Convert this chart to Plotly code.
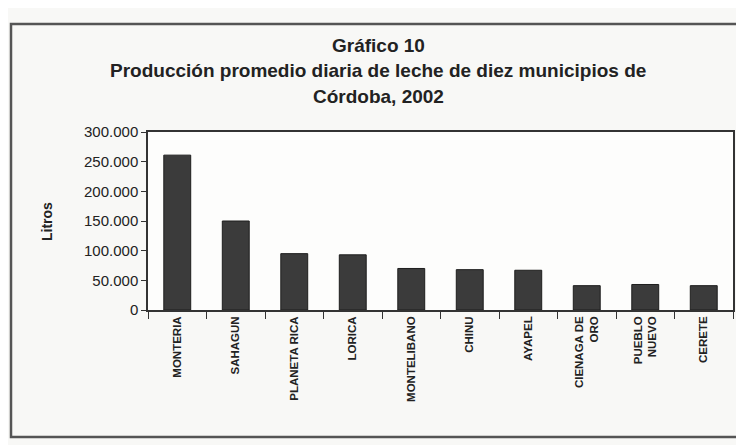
import plotly.graph_objects as go

categories = ["MONTERIA", "SAHAGUN", "PLANETA RICA", "LORICA", "MONTELIBANO",
              "CHINU", "AYAPEL", "CIENAGA DE<br>ORO", "PUEBLO<br>NUEVO", "CERETE"]
litros = [261000, 150000, 95000, 93000, 70000, 68000, 67000, 41000, 43000, 41000]
y_ticks = [0, 50000, 100000, 150000, 200000, 250000, 300000]

title_lines = ["Gráfico 10",
               "Producción promedio diaria de leche de diez municipios de",
               "Córdoba, 2002"]

W, H = 744, 445
OFF = 8  # page body margin
# plot area in page pixels (reference)
PL, PR, PT, PB = 148, 733, 132, 310
L, R, T, B = PL - OFF, W - (PR - OFF), PT - OFF, H - (PB - OFF)
pw, ph = W - L - R, H - T - B

def px_x(x):
    return (x - OFF - L) / pw

def px_y(y):
    return (H - B - (y - OFF)) / ph

font = "Liberation Sans, Arial, sans-serif"

fig = go.Figure(go.Bar(
    x=categories, y=litros,
    marker=dict(color="#3b3b3b", line=dict(color="#1e1e1e", width=1)),
    width=0.46,
))

annotations = []
for text, ypx in zip(title_lines, [46, 71, 96]):
    annotations.append(dict(text="<b>" + text + "</b>", x=px_x(378), y=px_y(ypx),
                            xref="paper", yref="paper", showarrow=False,
                            xanchor="center", yanchor="middle",
                            font=dict(family=font, size=19, color="#222222")))
annotations.append(dict(text="<b>Litros</b>", x=px_x(47), y=px_y(222), xref="paper", yref="paper",
                        showarrow=False, textangle=-90, xanchor="center", yanchor="middle",
                        font=dict(family=font, size=14, color="#222222")))

fig.update_layout(
    width=W, height=H,
    margin=dict(l=L, r=R, t=T, b=B),
    paper_bgcolor="#f8f8f6",
    plot_bgcolor="#fdfdfc",
    separators=",.",
    showlegend=False,
    annotations=annotations,
    shapes=[dict(type="rect", xref="paper", yref="paper",
                 x0=px_x(11), x1=px_x(770), y0=px_y(437), y1=px_y(24),
                 line=dict(color="#555555", width=2.5), layer="below")],
    font=dict(family=font, color="#222222"),
)
fig.update_yaxes(range=[0, 300000], tickvals=y_ticks, tickformat=",d",
                 showgrid=False, zeroline=False,
                 showline=True, linecolor="#333333", linewidth=1.5, mirror=True,
                 ticks="outside", ticklen=5, tickcolor="#333333",
                 tickfont=dict(family=font, size=15, color="#222222"))
fig.update_xaxes(showgrid=False, tickangle=-90,
                 showline=True, linecolor="#333333", linewidth=1.5, mirror=True,
                 ticks="outside", ticklen=7, tickson="boundaries", tickcolor="#333333",
                 tickfont=dict(family=font, size=11.5, color="#222222"))
fig.update_xaxes(tickprefix="<b>", ticksuffix="</b>")

fig.write_html("out.html")
